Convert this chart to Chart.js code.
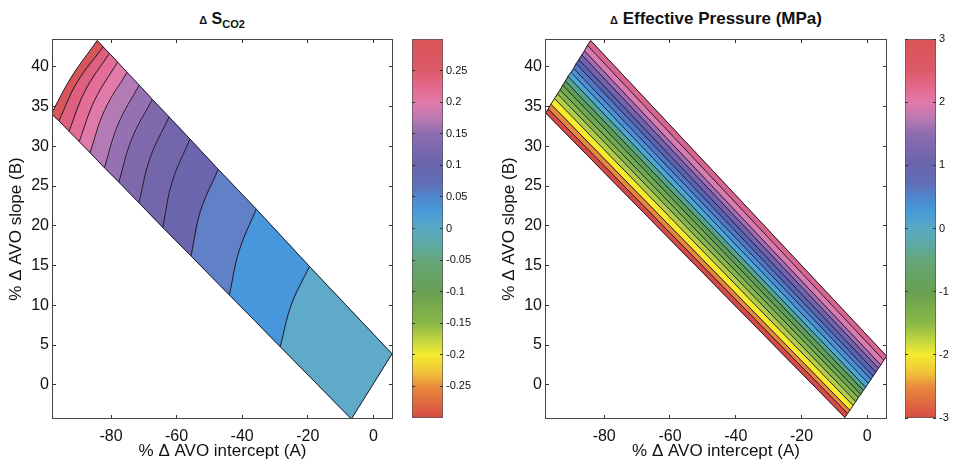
<!DOCTYPE html>
<html>
<head>
<meta charset="utf-8">
<script src="https://cdn.jsdelivr.net/npm/chart.js@4.4.1/dist/chart.umd.min.js"></script>
<style>
  body { margin: 0; background: #fff; }
  #wrap { position: relative; width: 956px; height: 468px; overflow: hidden; font-family: 'Liberation Sans', Arial, Helvetica, sans-serif; }
  canvas { position: absolute; top: 0; }
  .title { position: absolute; top: 10px; text-align: center; font-weight: bold; color: #111; white-space: nowrap; line-height: 18px; }
  .title .d { font-size: 11px; }
  .title sub { font-size: 11px; vertical-align: -4px; }
</style>
</head>
<body>
<div id="wrap">
  <div class="title" style="left:0; width:444px; font-size:16px;"><span class="d">&Delta;</span> S<sub>CO2</sub></div>
  <div class="title" style="left:493px; width:446px; font-size:17px;"><span class="d">&Delta;</span> Effective Pressure (MPa)</div>
  <canvas id="co2" width="400" height="468" style="left:0"></canvas>
  <canvas id="co2bar" width="65" height="468" style="left:412px"></canvas>
  <canvas id="ep" width="400" height="468" style="left:493px"></canvas>
  <canvas id="epbar" width="51" height="468" style="left:905px"></canvas>
</div>
<script>
// --- axes ---
const xTicks = [-80, -60, -40, -20, 0];
const yTicks = [0, 5, 10, 15, 20, 25, 30, 35, 40];
const xRange = [-98, 6];
const yRange = [-4.3, 43.5];

// --- Delta S_CO2: contour lines, lower edge -> middle -> upper edge ---
const co2LoX  = [-98.2, -95.9, -92.8, -89.7, -86.4, -82.0, -77.6, -71.5, -64.2, -55.6, -43.9, -28.4, -6.7];
const co2LoY  = [34.1, 33.2, 31.9, 30.6, 29.2, 27.3, 25.5, 22.9, 19.8, 16.2, 11.3, 4.8, -4.3];
const co2MidX = [-92.1, -90.3, -87.9, -85.0, -82.0, -77.9, -73.7, -68.1, -61.3, -52.7, -40.9, -25.0, -0.5];
const co2MidY = [38.7, 38.1, 37.0, 35.8, 34.5, 32.7, 30.9, 28.5, 25.6, 21.9, 16.9, 10.1, -0.2];
const co2HiX  = [-84.2, -82.4, -80.5, -78.0, -75.1, -71.4, -67.4, -62.3, -55.9, -47.3, -35.7, -19.5, 5.7];
const co2HiY  = [43.3, 42.5, 41.7, 40.6, 39.3, 37.7, 35.9, 33.7, 30.9, 27.1, 22.1, 14.9, 3.9];
const co2BandColors = ['#d8555b', '#df5f7e', '#e56e98', '#e07aa8', '#b47ab6', '#9570b2',
                       '#8068ad', '#7466ab', '#6b66ad', '#6081c7', '#4896dc', '#5fa9c9'];

// --- Delta effective pressure: stripe boundaries, left end -> right end ---
const epStartX = [-97.8, -97.0, -96.2, -95.1, -94.2, -93.4, -92.6, -91.8, -91.0, -90.1, -89.3, -88.5, -87.7, -86.8, -86.0, -85.1, -84.1];
const epStartY = [34.2, 34.7, 35.3, 36.0, 36.6, 37.1, 37.7, 38.2, 38.8, 39.3, 39.8, 40.4, 40.9, 41.5, 42.0, 42.7, 43.3];
const epEndX   = [-6.8, -6.0, -5.3, -4.3, -3.5, -2.7, -2.0, -1.2, -0.5, 0.3, 1.1, 1.8, 2.6, 3.4, 4.1, 5.0, 5.9];
const epEndY   = [-4.1, -3.6, -3.2, -2.6, -2.1, -1.6, -1.2, -0.7, -0.3, 0.2, 0.7, 1.1, 1.6, 2.1, 2.5, 3.1, 3.6];
const epBandColors = ['#d84a45', '#e8873c', '#f7ec2b', '#b0cc48', '#85b64b', '#6faa50', '#5e9d55', '#52a48c',
                      '#4aa7d6', '#4b8fd6', '#5078c6', '#5a63b2', '#7462ae', '#a46db3', '#da7bb0', '#d9648e'];

// --- colorbars ---
const co2BarRange = [-0.3, 0.3];
const co2BarTicks = [-0.25, -0.2, -0.15, -0.1, -0.05, 0, 0.05, 0.1, 0.15, 0.2, 0.25];
const epBarRange = [-3, 3];
const epBarTicks = [-3, -2, -1, 0, 1, 2, 3];
// colormap, position 0 = bottom, 1 = top
const cmapPos = [0, 0.083, 0.117, 0.167, 0.2, 0.25, 0.333, 0.417, 0.45, 0.5, 0.55, 0.583, 0.617, 0.667, 0.75, 0.783, 0.833, 0.867, 0.917, 1];
const cmapColors = ['#d84a44', '#e88a3c', '#f0c03a', '#f5ec2e', '#c8d83e', '#8ab846', '#68a052', '#64a57a', '#5ea99e', '#58aac4',
                    '#4698d8', '#4f86cc', '#5f6fb8', '#6864ac', '#8e6cb0', '#b478b4', '#e07aa8', '#e46b90', '#dd5a6a', '#d85456'];

Chart.defaults.font.family = "'Liberation Sans', Arial, Helvetica, sans-serif";
Chart.defaults.color = '#111';

const lineColor = '#1c1c2a';
const boxColor = '#444';

// outline round the plot area, drawn after everything else
const framePlugin = {
    id: 'frame',
    afterDraw(chart) {
        const a = chart.chartArea;
        const ctx = chart.ctx;
        ctx.save();
        ctx.strokeStyle = boxColor;
        ctx.lineWidth = 1;
        ctx.strokeRect(a.left + 0.5, a.top + 0.5, a.right - a.left - 1, a.bottom - a.top - 1);
        ctx.restore();
    }
};

function pt(x, y) {
    return { x: x, y: y };
}

function lineSet(data, tension) {
    return { data: data, borderColor: lineColor, borderWidth: 1, pointRadius: 0, fill: false, tension: tension, order: 0 };
}

function bandSet(data, color) {
    return { data: data, borderColor: color, backgroundColor: color, borderWidth: 1, pointRadius: 0, fill: 'shape', tension: 0, order: 1 };
}

function co2Datasets() {
    const sets = [];
    const n = co2LoX.length;
    for (let i = 0; i < n; i++) {
        sets.push(lineSet([pt(co2LoX[i], co2LoY[i]), pt(co2MidX[i], co2MidY[i]), pt(co2HiX[i], co2HiY[i])], 0.4));
    }
    sets.push(lineSet(co2LoX.map((x, i) => pt(x, co2LoY[i])), 0));
    sets.push(lineSet(co2HiX.map((x, i) => pt(x, co2HiY[i])), 0));
    for (let i = 0; i < co2BandColors.length; i++) {
        const poly = [
            pt(co2LoX[i], co2LoY[i]), pt(co2MidX[i], co2MidY[i]), pt(co2HiX[i], co2HiY[i]),
            pt(co2HiX[i + 1], co2HiY[i + 1]), pt(co2MidX[i + 1], co2MidY[i + 1]), pt(co2LoX[i + 1], co2LoY[i + 1]),
            pt(co2LoX[i], co2LoY[i])
        ];
        sets.push(bandSet(poly, co2BandColors[i]));
    }
    return sets;
}

function epDatasets() {
    const sets = [];
    const n = epStartX.length;
    for (let i = 0; i < n; i++) {
        sets.push(lineSet([pt(epStartX[i], epStartY[i]), pt(epEndX[i], epEndY[i])], 0));
    }
    sets.push(lineSet(epStartX.map((x, i) => pt(x, epStartY[i])), 0));
    sets.push(lineSet(epEndX.map((x, i) => pt(x, epEndY[i])), 0));
    for (let i = 0; i < epBandColors.length; i++) {
        const poly = [
            pt(epStartX[i], epStartY[i]), pt(epEndX[i], epEndY[i]),
            pt(epEndX[i + 1], epEndY[i + 1]), pt(epStartX[i + 1], epStartY[i + 1]),
            pt(epStartX[i], epStartY[i])
        ];
        sets.push(bandSet(poly, epBandColors[i]));
    }
    return sets;
}

// chart area is 52..(400-rightPad) x 39..419 inside a 400x468 canvas
function panelOptions(rightPad) {
    const areaW = 400 - 52 - rightPad;
    const areaH = 380;
    return {
        responsive: false,
        animation: false,
        layout: { padding: { top: 39, right: rightPad, left: 0, bottom: 0 } },
        plugins: { legend: { display: false }, tooltip: { enabled: false } },
        scales: {
            x: {
                type: 'linear', position: 'bottom', min: xRange[0], max: xRange[1],
                afterBuildTicks: s => { s.ticks = xTicks.map(v => ({ value: v })); },
                afterFit: s => { s.height = 49; },
                ticks: { font: { size: 16 }, padding: 8, maxRotation: 0, callback: v => String(v) },
                grid: { drawTicks: false, color: '#333', z: 1 },
                border: { display: false, dash: [4, areaH - 8] },
                title: { display: true, text: '% \u0394 AVO intercept (A)', font: { size: 17 }, padding: { top: 0, bottom: 6 } }
            },
            y: {
                type: 'linear', position: 'left', min: yRange[0], max: yRange[1],
                afterBuildTicks: s => { s.ticks = yTicks.map(v => ({ value: v })); },
                afterFit: s => { s.width = 52; },
                ticks: { font: { size: 16 }, padding: 3, callback: v => String(v) },
                grid: { drawTicks: false, color: '#333', z: 1 },
                border: { display: false, dash: [4, areaW - 8] },
                title: { display: true, text: '% \u0394 AVO slope (B)', font: { size: 17 }, padding: { top: 6, bottom: 0 } }
            }
        }
    };
}

function gradientFill() {
    return (ctx) => {
        const area = ctx.chart.chartArea;
        if (!area) return null;
        const g = ctx.chart.ctx.createLinearGradient(0, area.bottom, 0, area.top);
        cmapPos.forEach((p, i) => g.addColorStop(p, cmapColors[i]));
        return g;
    };
}

function colorbar(id, range, ticks, axisW) {
    const barW = 31;
    return new Chart(document.getElementById(id), {
        type: 'bar',
        data: {
            labels: [''],
            datasets: [{
                data: [[range[0], range[1]]],
                backgroundColor: gradientFill(),
                borderColor: '#555',
                borderWidth: 1,
                borderSkipped: false,
                barPercentage: 1,
                categoryPercentage: 1
            }]
        },
        options: {
            responsive: false,
            animation: false,
            layout: { padding: { top: 39, bottom: 50, left: 0, right: 0 } },
            plugins: { legend: { display: false }, tooltip: { enabled: false } },
            scales: {
                x: { display: false },
                y: {
                    position: 'right', min: range[0], max: range[1],
                    afterBuildTicks: s => { s.ticks = ticks.map(v => ({ value: v })); },
                    afterFit: s => { s.width = axisW; },
                    ticks: { font: { size: 11 }, padding: 3, callback: v => String(v) },
                    grid: { drawTicks: false, color: '#333', z: 1 },
                    border: { display: false, dash: [3, barW - 6] }
                }
            }
        }
    });
}

new Chart(document.getElementById('co2'), {
    type: 'line',
    data: { datasets: co2Datasets() },
    options: panelOptions(7),
    plugins: [framePlugin]
});

new Chart(document.getElementById('ep'), {
    type: 'line',
    data: { datasets: epDatasets() },
    options: panelOptions(6),
    plugins: [framePlugin]
});

colorbar('co2bar', co2BarRange, co2BarTicks, 34);
colorbar('epbar', epBarRange, epBarTicks, 20);
</script>
</body>
</html>
